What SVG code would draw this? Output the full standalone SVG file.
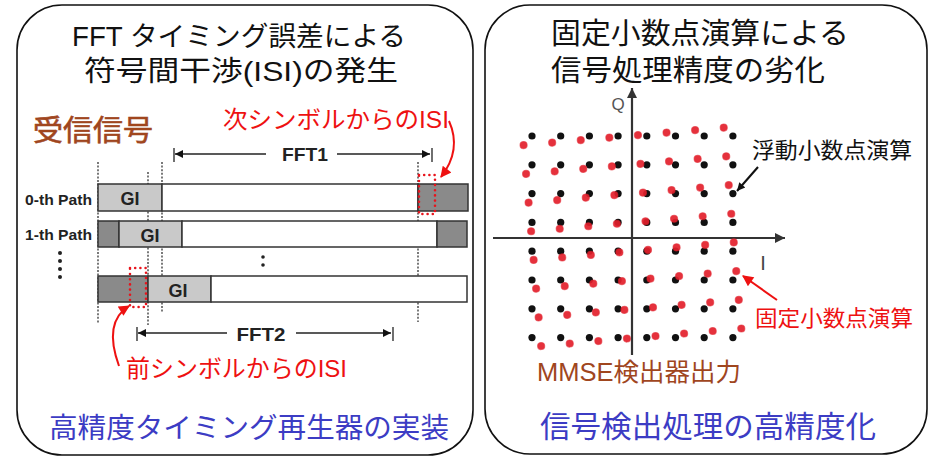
<svg xmlns="http://www.w3.org/2000/svg" xmlns:xlink="http://www.w3.org/1999/xlink" width="935" height="457" viewBox="0 0 935 457">
<style>
.jp{font-family:"Liberation Sans","Noto Sans CJK JP",sans-serif}
.lb{font-family:"Liberation Sans","Noto Sans CJK JP",sans-serif;font-weight:bold;fill:#222}
.panel{fill:#fff;stroke:#111;stroke-width:1.6}
.bar{stroke:#333;stroke-width:1.5}
.gi{fill:#c9c9c9}.dk{fill:#8a8a8a}.wh{fill:#fff}
.vd{stroke:#333;stroke-width:1.3;stroke-dasharray:2 1.6;fill:none}
.rd{fill:none;stroke:#e8141c;stroke-width:2.6;stroke-linecap:round;stroke-dasharray:0 5.2}
.red{fill:#ee1111}.brown{fill:#a0461e}.blue{fill:#3c3cc4}
</style>
<defs>
<marker id="ab" viewBox="0 0 10 10" refX="10" refY="5" markerWidth="10" markerHeight="8" markerUnits="userSpaceOnUse" orient="auto"><path d="M0,0L10,5L0,10z" fill="#111"/></marker>
<marker id="ar" viewBox="0 0 10 10" refX="9" refY="5" markerWidth="13" markerHeight="11" markerUnits="userSpaceOnUse" orient="auto"><path d="M0,0L10,5L0,10z" fill="#ee1111"/></marker>
<marker id="ax" viewBox="0 0 10 10" refX="10" refY="5" markerWidth="16" markerHeight="10" markerUnits="userSpaceOnUse" orient="auto"><path d="M0,0L10,5L0,10z" fill="#333"/></marker>
<g id="grid">
<circle cx="532" cy="136" r="3.6"/><circle cx="560.7" cy="136" r="3.6"/><circle cx="589.4" cy="136" r="3.6"/><circle cx="618.1" cy="136" r="3.6"/><circle cx="646.8" cy="136" r="3.6"/><circle cx="675.5" cy="136" r="3.6"/><circle cx="704.2" cy="136" r="3.6"/><circle cx="732.9" cy="136" r="3.6"/>
<circle cx="532" cy="164.8" r="3.6"/><circle cx="560.7" cy="164.8" r="3.6"/><circle cx="589.4" cy="164.8" r="3.6"/><circle cx="618.1" cy="164.8" r="3.6"/><circle cx="646.8" cy="164.8" r="3.6"/><circle cx="675.5" cy="164.8" r="3.6"/><circle cx="704.2" cy="164.8" r="3.6"/><circle cx="732.9" cy="164.8" r="3.6"/>
<circle cx="532" cy="193.6" r="3.6"/><circle cx="560.7" cy="193.6" r="3.6"/><circle cx="589.4" cy="193.6" r="3.6"/><circle cx="618.1" cy="193.6" r="3.6"/><circle cx="646.8" cy="193.6" r="3.6"/><circle cx="675.5" cy="193.6" r="3.6"/><circle cx="704.2" cy="193.6" r="3.6"/><circle cx="732.9" cy="193.6" r="3.6"/>
<circle cx="532" cy="222.4" r="3.6"/><circle cx="560.7" cy="222.4" r="3.6"/><circle cx="589.4" cy="222.4" r="3.6"/><circle cx="618.1" cy="222.4" r="3.6"/><circle cx="646.8" cy="222.4" r="3.6"/><circle cx="675.5" cy="222.4" r="3.6"/><circle cx="704.2" cy="222.4" r="3.6"/><circle cx="732.9" cy="222.4" r="3.6"/>
<circle cx="532" cy="251.2" r="3.6"/><circle cx="560.7" cy="251.2" r="3.6"/><circle cx="589.4" cy="251.2" r="3.6"/><circle cx="618.1" cy="251.2" r="3.6"/><circle cx="646.8" cy="251.2" r="3.6"/><circle cx="675.5" cy="251.2" r="3.6"/><circle cx="704.2" cy="251.2" r="3.6"/><circle cx="732.9" cy="251.2" r="3.6"/>
<circle cx="532" cy="280" r="3.6"/><circle cx="560.7" cy="280" r="3.6"/><circle cx="589.4" cy="280" r="3.6"/><circle cx="618.1" cy="280" r="3.6"/><circle cx="646.8" cy="280" r="3.6"/><circle cx="675.5" cy="280" r="3.6"/><circle cx="704.2" cy="280" r="3.6"/><circle cx="732.9" cy="280" r="3.6"/>
<circle cx="532" cy="308.8" r="3.6"/><circle cx="560.7" cy="308.8" r="3.6"/><circle cx="589.4" cy="308.8" r="3.6"/><circle cx="618.1" cy="308.8" r="3.6"/><circle cx="646.8" cy="308.8" r="3.6"/><circle cx="675.5" cy="308.8" r="3.6"/><circle cx="704.2" cy="308.8" r="3.6"/><circle cx="732.9" cy="308.8" r="3.6"/>
<circle cx="532" cy="337.6" r="3.6"/><circle cx="560.7" cy="337.6" r="3.6"/><circle cx="589.4" cy="337.6" r="3.6"/><circle cx="618.1" cy="337.6" r="3.6"/><circle cx="646.8" cy="337.6" r="3.6"/><circle cx="675.5" cy="337.6" r="3.6"/><circle cx="704.2" cy="337.6" r="3.6"/><circle cx="732.9" cy="337.6" r="3.6"/>
</g>
</defs>

<g id="left-panel">
<rect class="panel" x="17" y="5" width="456" height="450" rx="45" ry="45"/>
<text class="jp" x="239" y="46" font-size="27" text-anchor="middle" textLength="334" lengthAdjust="spacingAndGlyphs" fill="#111">FFT タイミング誤差による</text>
<text class="jp" x="241" y="81" font-size="28" text-anchor="middle" textLength="314" lengthAdjust="spacingAndGlyphs" fill="#111">符号間干渉(ISI)の発生</text>
</g>

<g id="timing-diagram">
<text class="jp brown" x="33" y="141" font-size="29" textLength="120" lengthAdjust="spacingAndGlyphs" stroke="#a0461e" stroke-width="0.6">受信信号</text>
<line class="vd" x1="98" y1="162" x2="98" y2="323"/>
<line class="vd" x1="148" y1="172" x2="148" y2="325"/>
<line class="vd" x1="162" y1="162" x2="162" y2="312"/>
<line class="vd" x1="418" y1="162" x2="418" y2="322"/>
<g id="path0">
<rect class="bar gi" x="98" y="184" width="64" height="27"/>
<rect class="bar wh" x="162" y="184" width="256" height="27"/>
<rect class="bar dk" x="418" y="184" width="50" height="27"/>
<text class="lb" x="130" y="205" font-size="18" text-anchor="middle">GI</text>
<text class="lb" x="92" y="205" font-size="15" text-anchor="end" textLength="67" lengthAdjust="spacingAndGlyphs">0-th Path</text>
</g>
<g id="path1">
<rect class="bar dk" x="98" y="221" width="21" height="26"/>
<rect class="bar gi" x="119" y="221" width="63" height="26"/>
<rect class="bar wh" x="182" y="221" width="255" height="26"/>
<rect class="bar dk" x="437" y="221" width="30" height="26"/>
<text class="lb" x="150" y="242" font-size="18" text-anchor="middle">GI</text>
<text class="lb" x="92" y="240" font-size="15" text-anchor="end" textLength="67" lengthAdjust="spacingAndGlyphs">1-th Path</text>
</g>
<g id="dots" fill="#222">
<circle cx="60" cy="253" r="2"/><circle cx="60" cy="261" r="2"/><circle cx="60" cy="269" r="2"/><circle cx="60" cy="277" r="2"/>
<circle cx="263" cy="257" r="1.8"/><circle cx="263" cy="265" r="1.8"/>
</g>
<g id="pathN">
<rect class="bar dk" x="98" y="276" width="50" height="26"/>
<rect class="bar gi" x="148" y="276" width="63" height="26"/>
<rect class="bar wh" x="211" y="276" width="256" height="26"/>
<text class="lb" x="178" y="297" font-size="18" text-anchor="middle">GI</text>
</g>
<g id="fft1">
<line x1="174" y1="148" x2="174" y2="162" stroke="#222" stroke-width="1.3"/>
<line x1="266" y1="154" x2="175" y2="154" stroke="#222" stroke-width="1.3" marker-end="url(#ab)"/>
<line x1="337" y1="154" x2="430" y2="154" stroke="#222" stroke-width="1.3" marker-end="url(#ab)"/>
<line x1="432" y1="148" x2="432" y2="162" stroke="#222" stroke-width="1.3"/>
<text class="lb" x="305" y="161" font-size="18" text-anchor="middle" textLength="46" lengthAdjust="spacingAndGlyphs">FFT1</text>
</g>
<g id="fft2">
<line x1="137" y1="327" x2="137" y2="341" stroke="#222" stroke-width="1.3"/>
<line x1="227" y1="333" x2="138" y2="333" stroke="#222" stroke-width="1.3" marker-end="url(#ab)"/>
<line x1="296" y1="333" x2="391" y2="333" stroke="#222" stroke-width="1.3" marker-end="url(#ab)"/>
<line x1="393" y1="327" x2="393" y2="341" stroke="#222" stroke-width="1.3"/>
<text class="lb" x="261" y="341" font-size="18" text-anchor="middle" textLength="49" lengthAdjust="spacingAndGlyphs">FFT2</text>
</g>
<rect class="rd" x="419" y="175" width="16" height="39"/>
<rect class="rd" x="130" y="268" width="16" height="39"/>
<text class="jp red" x="223" y="128" font-size="24" textLength="226" lengthAdjust="spacingAndGlyphs">次シンボルからのISI</text>
<text class="jp red" x="126" y="377" font-size="24" textLength="221" lengthAdjust="spacingAndGlyphs">前シンボルからのISI</text>
<text class="jp blue" x="49" y="438" font-size="28" textLength="400" lengthAdjust="spacingAndGlyphs">高精度タイミング再生器の実装</text>
</g>

<g id="right-panel">
<rect class="panel" x="485" y="5" width="442" height="449" rx="45" ry="45"/>
<text class="jp" x="700" y="44" font-size="29" text-anchor="middle" textLength="298" lengthAdjust="spacingAndGlyphs" fill="#111">固定小数点演算による</text>
<text class="jp" x="688" y="81" font-size="29" text-anchor="middle" textLength="274" lengthAdjust="spacingAndGlyphs" fill="#111">信号処理精度の劣化</text>
</g>

<g id="constellation">
<line x1="632" y1="355" x2="632" y2="88" stroke="#333" stroke-width="2.2" marker-end="url(#ax)"/>
<line x1="493" y1="238" x2="785" y2="238" stroke="#333" stroke-width="2.2" marker-end="url(#ax)"/>
<text x="618" y="110" font-family="Liberation Sans,sans-serif" font-size="17" fill="#555" text-anchor="middle">Q</text>
<text x="763" y="270" font-family="Liberation Sans,sans-serif" font-size="20" fill="#444" text-anchor="middle">I</text>
<use xlink:href="#grid" href="#grid" fill="#111"/>
<use xlink:href="#grid" href="#grid" fill="#e3202c" stroke="#e3202c" stroke-width="1" stroke-opacity="0.6" transform="rotate(-5 633 237)" opacity="0.92"/>
<text class="jp" x="752" y="158" font-size="22" textLength="160" lengthAdjust="spacingAndGlyphs" fill="#111">浮動小数点演算</text>
<text class="jp red" x="755" y="326" font-size="22" textLength="158" lengthAdjust="spacingAndGlyphs">固定小数点演算</text>
<text class="jp brown" x="537" y="381" font-size="25" textLength="204" lengthAdjust="spacingAndGlyphs">MMSE検出器出力</text>
<text class="jp blue" x="540" y="437" font-size="30" textLength="336" lengthAdjust="spacingAndGlyphs">信号検出処理の高精度化</text>
</g>

<g id="connectors">
<path d="M449,121 Q462,150 441,177" fill="none" stroke="#ee1111" stroke-width="2" marker-end="url(#ar)"/>
<path d="M119,366 Q103,322 129,306" fill="none" stroke="#ee1111" stroke-width="2" marker-end="url(#ar)"/>
<line x1="758" y1="167" x2="737" y2="191" stroke="#111" stroke-width="2" marker-end="url(#ab)"/>
<line x1="777" y1="300" x2="743" y2="276" stroke="#ee1111" stroke-width="2" marker-end="url(#ar)"/>
</g>
</svg>
